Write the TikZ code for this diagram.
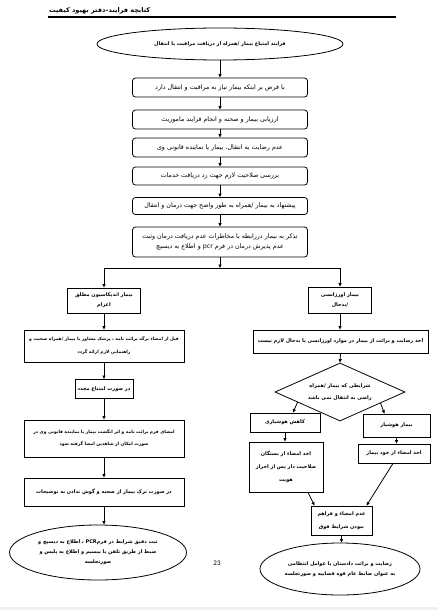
\documentclass[tikz,border=0pt]{standalone}
\usepackage{fontspec}
\usetikzlibrary{positioning, calc, shapes.geometric, arrows.meta}
\newfontfamily\farsi[Script=Arabic]{DejaVu Sans}
\newfontfamily\numfont{Carlito}
\TeXXeTstate=1
\newcommand{\fa}[1]{\beginR #1\endR}

\begin{document}
\begin{tikzpicture}[
    x=1pt, y=-1pt,
    % Block styles
    header/.style={
      inner sep=0pt, font=\farsi\bfseries\fontsize{6.5}{8}\selectfont
    },
    terminal/.style={
      ellipse, draw=black, line width=0.8pt, inner sep=0pt,
      align=center, font=\farsi\bfseries\fontsize{5}{10}\selectfont
    },
    step-box/.style={
      rectangle, rounded corners=3pt, draw=black, line width=0.8pt,
      minimum width=175pt, inner sep=0pt,
      align=center, font=\farsi\fontsize{6.3}{10}\selectfont
    },
    branch-box/.style={
      rectangle, draw=black, line width=0.8pt, inner sep=0pt,
      align=center, font=\farsi\bfseries\fontsize{5}{10}\selectfont
    },
    wide-text/.style={font=\farsi\bfseries\fontsize{4.4}{10}\selectfont},
    decision/.style={
      diamond, draw=black, line width=0.8pt, inner sep=0pt, aspect=2.2,
      minimum width=130pt, minimum height=58pt,
      align=center, font=\farsi\bfseries\fontsize{5}{12}\selectfont
    },
    connector/.style={draw=black, line width=0.8pt, -{Triangle[length=3.5pt, width=3pt]}},
  ]

  \useasboundingbox (0,0) rectangle (438,610);
  \fill[gray!12] (0,607) rectangle (438,610);

  % === Header ===
  \node[header, anchor=west] (title) at (49,11) {\fa{کتابچه فرایند–دفتر بهبود کیفیت}};
  \draw[line width=1.6pt] (48,17) -- (396,17);

  % === Main column ===
  \node[terminal, minimum width=246pt, minimum height=32pt] (start) at (220,44)
    {\fa{فرایند امتناع بیمار /همراه از دریافت مراقبت یا انتقال}};
  \node[step-box, minimum height=19pt] (s1) at (220,87.5)
    {\fa{با فرض بر اینکه بیمار نیاز به مراقبت و انتقال دارد}};
  \node[step-box, minimum height=19pt] (s2) at (220,119.5)
    {\fa{ارزیابی بیمار و صحنه و انجام فرایند ماموریت}};
  \node[step-box, minimum height=19pt] (s3) at (220,147.5)
    {\fa{عدم رضایت به انتقال، بیمار یا نماینده قانونی وی}};
  \node[step-box, minimum height=18pt] (s4) at (220,176)
    {\fa{بررسی صلاحیت لازم جهت رد دریافت خدمات}};
  \node[step-box, minimum height=17pt] (s5) at (220,206)
    {\fa{پیشنهاد به بیمار /همراه به طور واضح جهت درمان و انتقال}};
  \node[step-box, minimum height=30pt] (s6) at (220,242)
    {\fa{تذکر به بیمار دررابطه با مخاطرات عدم دریافت درمان وثبت}\\
     \fa{عدم پذیرش درمان در فرم \beginL pcr\endL{} و اطلاع به دیسپچ}};

  \foreach \a/\b in {start/s1, s1/s2, s2/s3, s3/s4, s4/s5, s5/s6}
    \draw[connector] (\a) -- (\b);

  % split into the two branches
  \coordinate (split) at (220,268);
  \draw[connector] (s6.south) -- (split);

  % === Left branch ===
  \node[branch-box, minimum width=73pt, minimum height=25pt] (left1) at (104,300.5)
    {\fa{بیمار اندیکاسیون مطلق}\\\fa{اعزام}};
  \node[branch-box, wide-text, minimum width=160pt, minimum height=32pt] (left2) at (104,346)
    {\fa{قبل از امضاء برگه برائت نامه ، پزشک مشاور با بیمار /همراه صحبت و}\\[3pt]
     \fa{راهنمایی لازم ارائه گردد}};
  \node[branch-box, minimum width=58pt, minimum height=19pt] (left3) at (104,389)
    {\fa{در صورت امتناع مجدد}};
  \node[branch-box, wide-text, minimum width=160pt, minimum height=37pt] (left4) at (104,438.5)
    {\fa{امضای فرم برائت نامه و اثر انگشت بیمار یا نماینده قانونی وی در}\\[2pt]
     \fa{صورت امکان از شاهدین امضا گرفته شود}};
  \node[branch-box, minimum width=160pt, minimum height=28pt] (left5) at (104,492)
    {\fa{در صورت ترک بیمار از صحنه و گوش ندادن به توضیحات}};
  \node[terminal, minimum width=177pt, minimum height=55pt] (leftend) at (98,552.5)
    {\fa{ثبت دقیق شرایط در فرم\beginL PCR\endL{} ، اطلاع به دیسپچ و}\\
     \fa{ضبط از طریق تلفن یا بیسیم و اطلاع به پلیس و}\\
     \fa{صورتجلسه}};

  \draw[connector] (split) -| (left1.north);
  \foreach \a/\b in {left1/left2, left2/left3, left3/left4, left4/left5, left5/leftend}
    \draw[connector] (\a.south) -- (\a.south |- \b.north);

  % === Right branch ===
  \node[branch-box, minimum width=63pt, minimum height=26pt] (right1) at (340,300)
    {\fa{بیمار اورژانسی}\\\fa{/بدحال}};
  \node[branch-box, minimum width=175pt, minimum height=23pt] (right2) at (340.5,341.5)
    {\fa{اخذ رضایت و برائت از بیمار در موارد اورژانسی یا بدحال لازم نیست}};
  \node[decision] (dec) at (340,392)
    {\fa{شرایطی که بیمار /همراه}\\\fa{راضی به انتقال نمی باشد}};
  \node[branch-box, minimum width=70pt, minimum height=19pt] (drowsy) at (285,422.5)
    {\fa{کاهش هوشیاری}};
  \node[branch-box, minimum width=67pt, minimum height=23pt] (alert) at (396.5,425.5)
    {\fa{بیمار هوشیار}};
  \node[branch-box, minimum width=74pt, minimum height=50pt] (kin) at (286,467)
    {\fa{اخذ امضاء از بستگان}\\[3pt]\fa{صلاحیت دار پس از احراز}\\[3pt]\fa{هویت}};
  \node[branch-box, minimum width=72pt, minimum height=19pt] (self) at (394,453.5)
    {\fa{اخذ امضاء از خود بیمار}};
  \node[branch-box, minimum width=61pt, minimum height=29pt] (nosign) at (341.5,520.5)
    {\fa{عدم امضاء و فراهم}\\[3pt]\fa{نبودن شرایط فوق}};
  \node[terminal, minimum width=160pt, minimum height=52pt] (rightend) at (340,569)
    {\fa{رضایت و برائت دادستان یا عوامل انتظامی}\\
     \fa{به عنوان ضابط عام قوه قضاییه و صورتجلسه}};

  \draw[connector] (split) -| (right1.north);
  \draw[connector] (right1) -- (right1 |- right2.north);
  \draw[connector] (right2.south) -- (dec.north);
  \draw[connector] ($(dec.west)!0.35!(dec.south)$) -- ([xshift=8pt]drowsy.north);
  \draw[connector] ($(dec.east)!0.38!(dec.south)$) -- ([xshift=-12pt]alert.north);
  \draw[connector] (drowsy.south) -- (drowsy.south |- kin.north);
  \draw[connector] (alert.south) -- (alert.south |- self.north);
  \draw[connector] ([xshift=22pt]kin.south) -- ([xshift=-27pt]nosign.north);
  \draw[connector] ([xshift=-1pt]self.south) -- ([xshift=25pt]nosign.north);
  \draw[connector] (nosign.south) -- (nosign.south |- rightend.north);

  % page number
  \node[font=\numfont\fontsize{7}{8}\selectfont] (pagenum) at (217,563) {23};

\end{tikzpicture}
\end{document}
